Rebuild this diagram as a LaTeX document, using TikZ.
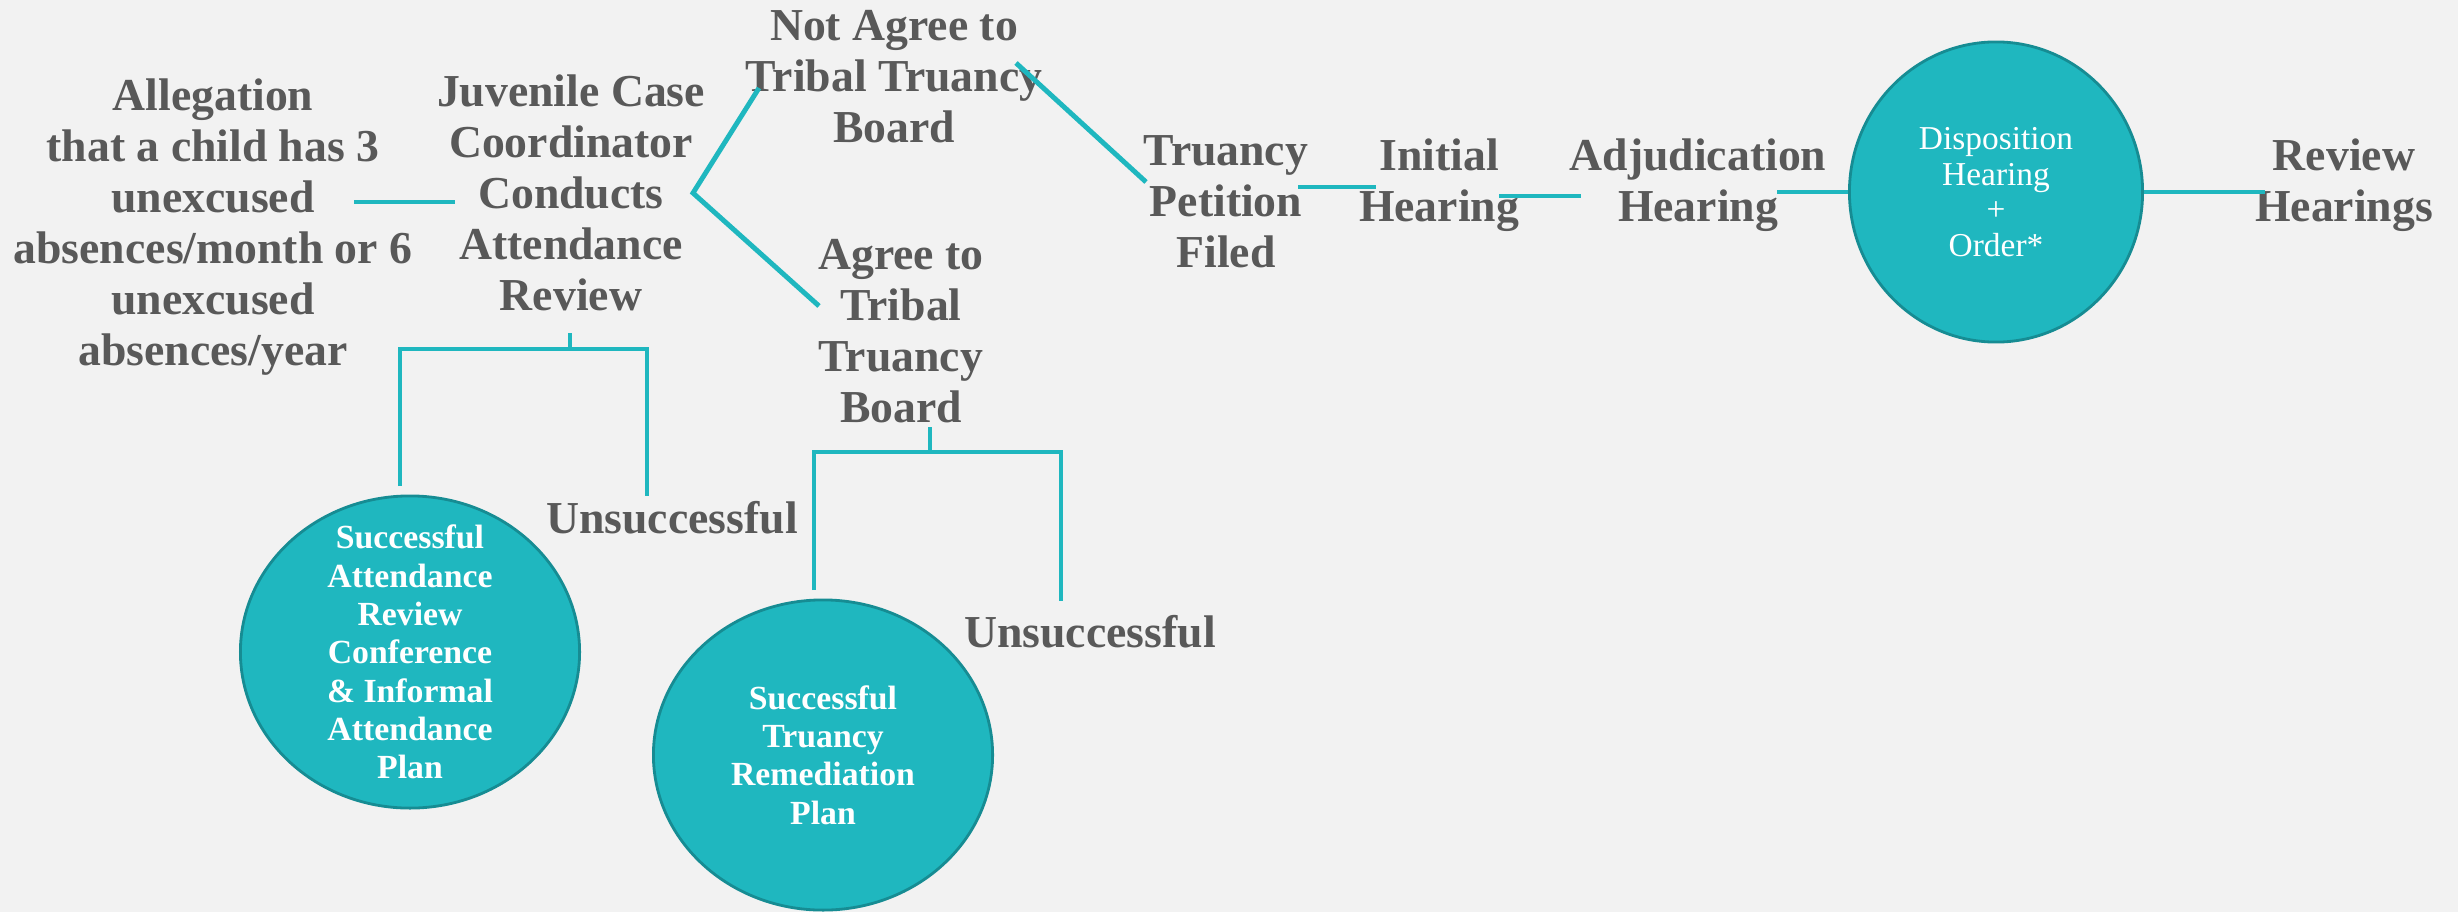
\documentclass[tikz,border=0pt]{standalone}
\usepackage{fontspec}
\setmainfont{Liberation Serif}
\usepackage{xcolor}
\usetikzlibrary{positioning}
\usetikzlibrary{shapes.geometric}
\definecolor{tealline}{HTML}{1FB7BF}
\definecolor{tealedge}{HTML}{168C93}
\definecolor{greytext}{HTML}{595959}
\definecolor{bggrey}{HTML}{F2F2F2}

\tikzset{
  lbl/.style={text=greytext, align=center, inner sep=0pt, font=\fontsize{13}{14.5}\selectfont\bfseries},
  bub/.style={ellipse, fill=tealline, draw=tealedge, line width=0.8pt, inner sep=0pt},
  bubtxt/.style={text=white, align=center, inner sep=0pt, font=\fontsize{9.6}{10.9}\selectfont\bfseries},
  link/.style={tealline, line width=1.4pt},
}

\begin{document}
\begin{tikzpicture}[x=0.01cm, y=-0.01cm]
\useasboundingbox (0,0) rectangle (2458,912);
\fill[bggrey] (0,0) rectangle (2458,912);

% steps
\node[lbl] (alleg) at (213,227) {Allegation\\that a child has 3\\unexcused\\absences/month or 6\\unexcused\\absences/year};
\node[lbl] (jcc) at (571,193) {Juvenile Case\\Coordinator\\Conducts\\Attendance\\Review};
\node[lbl] (notagree) at (894,77) {Not Agree to\\Tribal Truancy\\Board};
\node[lbl] (agree) at (901,331) {Agree to\\Tribal\\Truancy\\Board};
\node[lbl] (petition) at (1226,202) {Truancy\\Petition\\Filed};
\node[lbl] (initial) at (1439,185) {Initial\\Hearing};
\node[lbl] (adjud) at (1698,185) {Adjudication\\Hearing};
\node[lbl] (review) at (2344,185) {Review\\Hearings};
\node[lbl] (unsucc1) at (672,518) {Unsuccessful};
\node[lbl] (unsucc2) at (1090,632) {Unsuccessful};

% circles
\node[bub, minimum width=2.93cm, minimum height=3.0cm] (dispo) at (1996,192) {};
\node[bubtxt, font=\fontsize{9.5}{10.1}\selectfont] (dispotxt) at (dispo) {Disposition\\Hearing\\+\\Order*};
\node[bub, minimum width=3.39cm, minimum height=3.12cm] (sarc) at (410,652) {};
\node[bubtxt] (sarctxt) at (sarc) {Successful\\Attendance\\Review\\Conference\\\& Informal\\Attendance\\Plan};
\node[bub, minimum width=3.39cm, minimum height=3.10cm] (strp) at (823,755) {};
\node[bubtxt] (strptxt) at (strp) {Successful\\Truancy\\Remediation\\Plan};

% main line
\coordinate (a1) at (354,202);
\coordinate (a2) at (455,202);
\draw[link] (a1) -- (a2);
\coordinate (fork) at (693,193);
\coordinate (up) at (759,88);
\coordinate (down) at (819,306);
\draw[link] (up) -- (fork) -- (down);
\coordinate (n1) at (1016,63);
\coordinate (n2) at (1146,182);
\draw[link] (n1) -- (n2);
\coordinate (p1) at (1298,187);
\coordinate (p2) at (1376,187);
\draw[link] (p1) -- (p2);
\coordinate (i1) at (1499,196);
\coordinate (i2) at (1581,196);
\draw[link] (i1) -- (i2);
\coordinate (d1) at (1777,192);
\draw[link] (d1) -- (dispo.west);
\coordinate (r1) at (2265,192);
\draw[link] (dispo.east) -- (r1);

% bracket under review
\coordinate (b1top) at (570,333);
\coordinate (b1mid) at (570,349);
\coordinate (b1l) at (400,486);
\coordinate (b1r) at (647,496);
\draw[link] (b1top) -- (b1mid);
\draw[link] (b1l) |- (b1mid) -| (b1r);

% bracket under board
\coordinate (b2top) at (930,427);
\coordinate (b2mid) at (930,452);
\coordinate (b2l) at (814,590);
\coordinate (b2r) at (1061,601);
\draw[link] (b2top) -- (b2mid);
\draw[link] (b2l) |- (b2mid) -| (b2r);
\end{tikzpicture}
\end{document}
